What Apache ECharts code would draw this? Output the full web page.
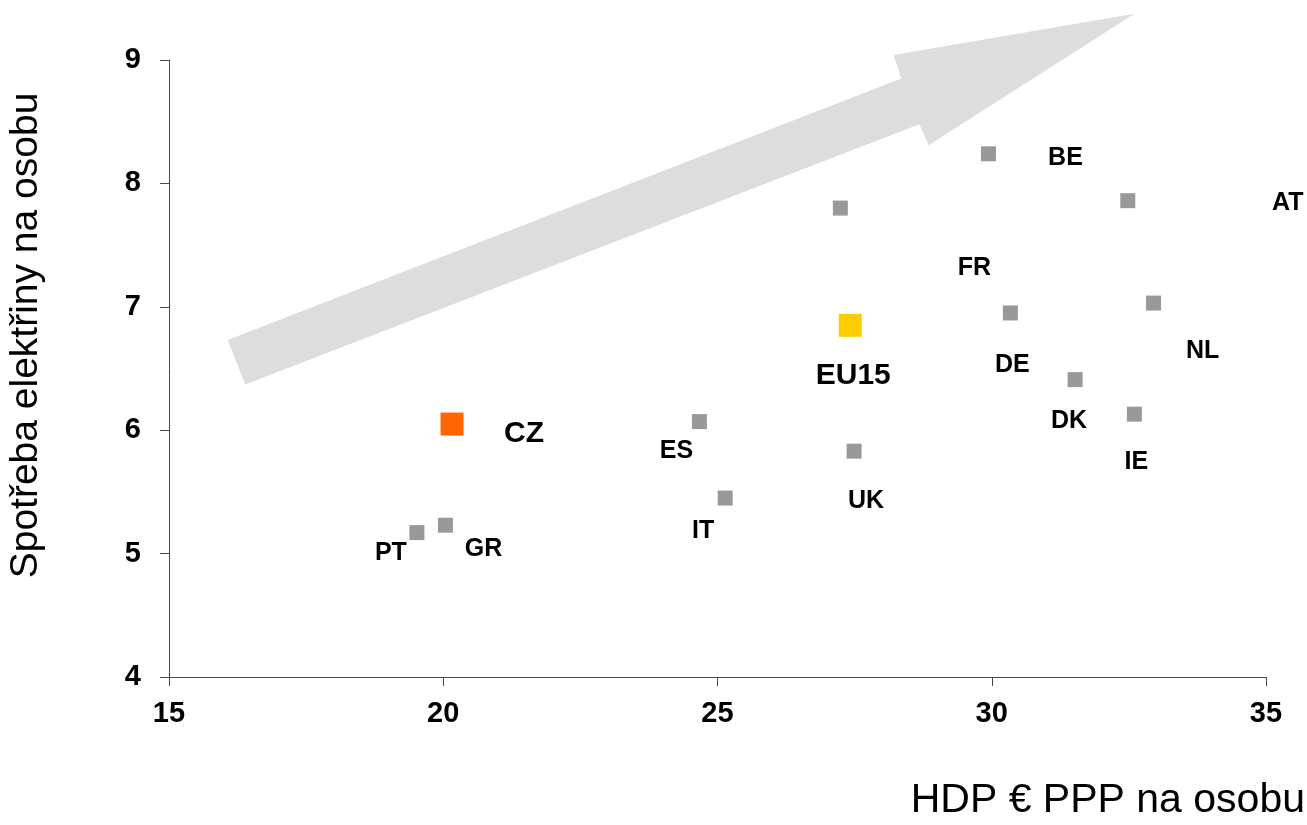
<!DOCTYPE html>
<html>
<head>
<meta charset="utf-8">
<title>Spotřeba elektřiny a HDP</title>
<script src="https://cdn.jsdelivr.net/npm/echarts@6/dist/echarts.min.js"></script>
<style>
  html, body { margin: 0; padding: 0; background: #ffffff; }
  #chart { width: 1307px; height: 825px; }
</style>
</head>
<body>
<div id="chart"></div>
<script>
// ---- data ----
const countries = ['PT', 'GR', 'ES', 'IT', 'FR', 'UK', 'BE', 'DE', 'DK', 'AT', 'IE', 'NL'];
const gdpPerCapita = [19.52, 20.04, 24.67, 25.14, 27.24, 27.49, 29.94, 30.34, 31.52, 32.48, 32.60, 32.95];
const electricityPerCapita = [5.17, 5.23, 6.07, 5.45, 7.80, 5.83, 8.24, 6.95, 6.41, 7.86, 6.13, 7.03];

const highlightNames = ['CZ', 'EU15'];
const highlightGdp = [20.16, 27.42];
const highlightElectricity = [6.05, 6.85];

const xTicks = [15, 20, 25, 30, 35];
const yTicks = [4, 5, 6, 7, 8, 9];

const xAxisTitle = 'HDP € PPP na osobu';
const yAxisTitle = 'Spotřeba elektřiny na osobu';

// trend arrow outline, in axis units (GDP, electricity)
const arrowGdp = [16.07, 28.35, 28.21, 32.60, 28.85, 28.68, 16.39];
const arrowElectricity = [6.73, 8.85, 9.04, 9.375, 8.31, 8.48, 6.37];

// ---- styling ----
const FONT = '"Liberation Sans", Arial, sans-serif';
const GREY = '#999999';
const highlightColors = ['#FF6600', '#FFCC00'];

// label placement relative to each marker, in pixels [dx, dy]
const labelOffset = {
  PT: [-26, 20], GR: [38, 24], ES: [-23, 30], IT: [-22, 33],
  FR: [134, 60], UK: [12, 50], BE: [77, 4], DE: [2, 52],
  DK: [-6, 42], AT: [160, 2], IE: [2, 48], NL: [49, 48],
  CZ: [72, 10], EU15: [3, 50]
};

const chart = echarts.init(document.getElementById('chart'), null, { renderer: 'canvas' });

const countryData = countries.map((c, i) => ({
  name: c,
  value: [gdpPerCapita[i], electricityPerCapita[i]],
  label: { offset: labelOffset[c] }
}));

const highlightData = highlightNames.map((c, i) => ({
  name: c,
  value: [highlightGdp[i], highlightElectricity[i]],
  itemStyle: { color: highlightColors[i], opacity: 1 },
  label: { offset: labelOffset[c] }
}));

const arrowPoints = arrowGdp.map((x, i) => [x, arrowElectricity[i]]);

const markerLabel = (size) => ({
  show: true,
  position: 'inside',
  formatter: '{b}',
  fontFamily: FONT,
  fontSize: size,
  fontWeight: 'bold',
  color: '#000000',
  opacity: 1,
  textBorderWidth: 0,
  align: 'center',
  verticalAlign: 'middle'
});

const axisCommon = {
  axisLine: { show: true, lineStyle: { color: '#4a4a4a', width: 1 } },
  axisTick: { show: true, inside: false, length: 9, lineStyle: { color: '#4a4a4a', width: 1 } },
  splitLine: { show: false }
};

const option = {
  backgroundColor: '#ffffff',
  animation: false,
  textStyle: { fontFamily: FONT, color: '#000000' },
  title: {
    text: xAxisTitle,
    right: 2,
    top: 780,
    padding: 0,
    textStyle: { fontFamily: FONT, fontSize: 41, fontWeight: 'normal', color: '#000000', lineHeight: 42 }
  },
  grid: {
    left: 169, right: 41, top: 60, bottom: 148,
    containLabel: false,
    outerBoundsMode: 'none'
  },
  xAxis: Object.assign({
    type: 'value',
    min: xTicks[0],
    max: xTicks[xTicks.length - 1],
    interval: xTicks[1] - xTicks[0],
    axisLabel: { margin: 22, fontFamily: FONT, fontSize: 29, fontWeight: 'bold', color: '#000000' }
  }, axisCommon),
  yAxis: Object.assign({
    type: 'value',
    min: yTicks[0],
    max: yTicks[yTicks.length - 1],
    interval: yTicks[1] - yTicks[0],
    name: yAxisTitle,
    nameLocation: 'middle',
    nameGap: 123,
    nameRotate: 90,
    nameTextStyle: { fontFamily: FONT, fontSize: 39, color: '#000000', padding: [0, 0, 0, 66] },
    axisLabel: { margin: 28, fontFamily: FONT, fontSize: 29, fontWeight: 'bold', color: '#000000' }
  }, axisCommon),
  series: [
    {
      type: 'custom',
      name: 'trend',
      clip: false,
      silent: true,
      z: 1,
      data: [0],
      renderItem: function (params, api) {
        const pts = arrowPoints.map(p => api.coord(p));
        return {
          type: 'polygon',
          shape: { points: pts },
          style: { fill: '#DDDDDD', stroke: null }
        };
      }
    },
    {
      type: 'scatter',
      name: 'země',
      z: 3,
      symbol: 'rect',
      symbolSize: 15,
      itemStyle: { color: GREY, opacity: 1 },
      label: markerLabel(25),
      emphasis: { disabled: true },
      data: countryData
    },
    {
      type: 'scatter',
      name: 'zvýraznění',
      z: 4,
      symbol: 'rect',
      symbolSize: 23,
      itemStyle: { opacity: 1 },
      label: markerLabel(30),
      emphasis: { disabled: true },
      data: highlightData
    }
  ]
};

chart.setOption(option);
</script>
</body>
</html>
